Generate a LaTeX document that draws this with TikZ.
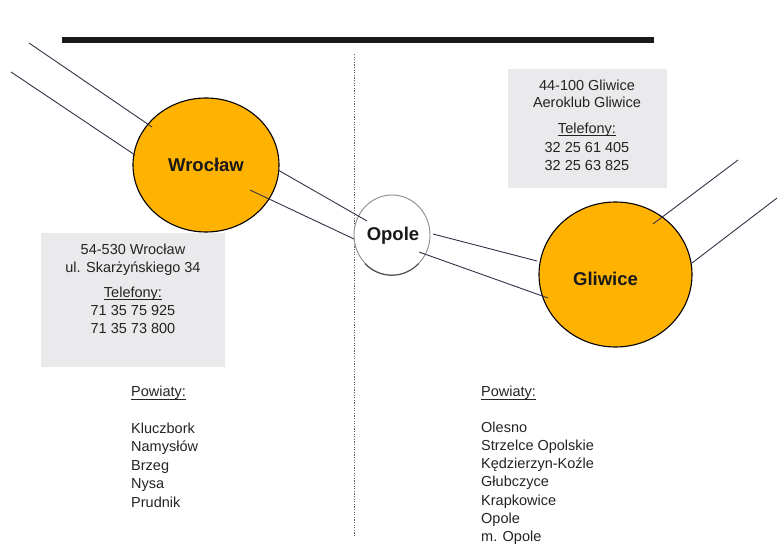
\documentclass[tikz,border=0pt]{standalone}
\usepackage{fontspec}
\setmainfont{Liberation Sans}
\usetikzlibrary{shapes.geometric}
\definecolor{cityfill}{RGB}{255,178,0}
\definecolor{linecol}{RGB}{50,50,70}
\definecolor{boxfill}{RGB}{234,234,236}
\definecolor{txtcol}{RGB}{35,35,35}
\newcommand{\myul}[1]{\setbox0\hbox{#1}\rlap{\rule[-2.6pt]{\wd0}{0.8pt}}\box0}
\tikzset{
  city/.style={ellipse, draw=black, line width=1.1pt, fill=cityfill, inner sep=0pt},
  cityname/.style={font=\fontsize{18.5}{22}\selectfont\bfseries, text=black!90, inner sep=0pt},
  road/.style={draw=linecol, line width=0.9pt},
  infobox/.style={fill=boxfill, draw=none},
  txt/.style={font=\fontsize{14.5}{18}\selectfont, text=txtcol, inner sep=0pt, anchor=base},
  lst/.style={font=\fontsize{14.5}{18}\selectfont, text=txtcol, inner sep=0pt, anchor=base west},
}
\begin{document}
\begin{tikzpicture}[x=1pt,y=-1pt]
\useasboundingbox (0,0) rectangle (777,545);
% top bar
\coordinate (barL) at (62,40);
\coordinate (barR) at (654,40);
\draw[line width=5.5pt, black!90] (barL) -- (barR);
% dotted divider
\coordinate (divT) at (354,54);
\coordinate (divB) at (354,536);
\draw[black!60, line width=0.9pt, dash pattern=on 1.2pt off 1.4pt] (divT) -- (divB);
% info boxes
\node[infobox, minimum width=184, minimum height=134, inner sep=0pt] (wbox) at (133,300) {};
\node[infobox, minimum width=159, minimum height=119, inner sep=0pt] (gbox) at (587.5,128.5) {};
% circles
\node[city, minimum width=146, minimum height=134] (wroclaw) at (206,165) {};
\node[ellipse, draw=black!45, line width=0.9pt, fill=white, inner sep=0pt, minimum width=76, minimum height=80] (opole) at (392,235) {};
\draw[black!70, line width=1pt] (opole.south west) arc[start angle=225, end angle=315, x radius=38, y radius=-40];
\node[city, minimum width=153, minimum height=145] (gliwice) at (615.5,274.5) {};
% city names
\node[cityname] (wtxt) at (206,165) {Wrocław};
\node[cityname] (otxt) at (393,236) {Opole};
\node[cityname] (gtxt) at (605.5,279) {Gliwice};
% roads
\coordinate (w1a) at (29,43);   \coordinate (w1b) at (152,127);
\coordinate (w2a) at (11,72);   \coordinate (w2b) at (135,155);
\coordinate (wo1a) at (278,170); \coordinate (wo1b) at (367,221);
\coordinate (wo2a) at (250,190); \coordinate (wo2b) at (354,239);
\coordinate (og1a) at (433,234); \coordinate (og1b) at (537,261);
\coordinate (og2a) at (419,252); \coordinate (og2b) at (548,298);
\coordinate (g1a) at (653,224); \coordinate (g1b) at (738,160);
\coordinate (g2a) at (692,263); \coordinate (g2b) at (777,198);
\draw[road] (w1a) -- (w1b);
\draw[road] (w2a) -- (w2b);
\draw[road] (wo1a) -- (wo1b);
\draw[road] (wo2a) -- (wo2b);
\draw[road] (og1a) -- (og1b);
\draw[road] (og2a) -- (og2b);
\draw[road] (g1a) -- (g1b);
\draw[road] (g2a) -- (g2b);
% Wroclaw box text
\node[txt] (w1) at (133,254.5) {54-530 Wrocław};
\node[txt] (w2) at (133,272.5) {ul. Skarżyńskiego 34};
\node[txt] (w3) at (133,297.5) {\myul{Telefony:}};
\node[txt] (w4) at (133,315.5) {71 35 75 925};
\node[txt] (w5) at (133,333.5) {71 35 73 800};
% Gliwice box text
\node[txt] (g1) at (587,90.5) {44-100 Gliwice};
\node[txt] (g2) at (587,108) {Aeroklub Gliwice};
\node[txt] (g3) at (587,133.5) {\myul{Telefony:}};
\node[txt] (g4) at (587,152.5) {32 25 61 405};
\node[txt] (g5) at (587,170.5) {32 25 63 825};
% Powiaty left
\node[lst] (pl0) at (131,397) {\myul{Powiaty:}};
\node[lst] (pl1) at (131,433) {Kluczbork};
\node[lst] (pl2) at (131,451.5) {Namysłów};
\node[lst] (pl3) at (131,470) {Brzeg};
\node[lst] (pl4) at (131,488.5) {Nysa};
\node[lst] (pl5) at (131,507) {Prudnik};
% Powiaty right
\node[lst] (pr0) at (481,397) {\myul{Powiaty:}};
\node[lst] (pr1) at (481,432) {Olesno};
\node[lst] (pr2) at (481,450.3) {Strzelce Opolskie};
\node[lst] (pr3) at (481,468.6) {Kędzierzyn-Koźle};
\node[lst] (pr4) at (481,486.9) {Głubczyce};
\node[lst] (pr5) at (481,505.2) {Krapkowice};
\node[lst] (pr6) at (481,523.5) {Opole};
\node[lst] (pr7) at (481,541.8) {m. Opole};
\end{tikzpicture}
\end{document}
